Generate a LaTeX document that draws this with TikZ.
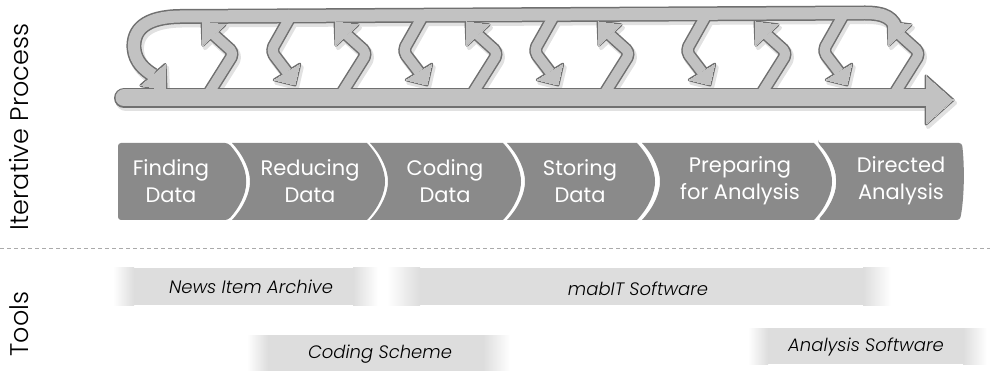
\documentclass[tikz,border=0pt]{standalone}
\usepackage{fontspec}
\setmainfont{Poppins}[UprightFont=* Light, ItalicFont=* Light Italic, BoldFont=* Medium]
\newfontfamily\chevfont{Poppins}
\usetikzlibrary{calc}
\definecolor{arrfill}{RGB}{194,194,194}
\definecolor{arrline}{RGB}{112,112,112}
\definecolor{shadowc}{RGB}{225,225,225}
\definecolor{chevc}{RGB}{138,138,138}
\definecolor{barc}{RGB}{221,221,221}
\definecolor{dashc}{RGB}{170,170,170}
% head: base #1, tip #2, half width #3
\newcommand\hd[3]{\filldraw ($#1!#3!90:#2$) -- #2 -- ($#1!#3!-90:#2$) -- cycle;}
% all arrow shapes: #1 colour, #2 extra stroke width, #3 head outline width
\newcommand\allshapes[3]{%
 \begin{scope}[draw=#1, fill=#1, line join=round]
  % bottom rail
  \draw[line width=17pt+#2, line cap=round] (124,98) -- (930,98);
  \filldraw[line width=#3] (926,76) -- (953,100) -- (926,124) -- cycle;
  % top rail with left loop
  \draw[line width=12pt+#2] (897,32) .. controls (894,18) and (885,13) .. (865,13)
       -- (180,16.5) .. controls (145,17) and (133,30) .. (134,48)
       .. controls (135,62) and (145,70) .. (153,75);
  \begin{scope}[line width=#3]\hd{(153,75)}{(166,90)}{16pt}\end{scope}
  % up arrows
  \foreach \f in {207,340,471,603,760,893}{
    \draw[line width=10pt+#2, rounded corners=5pt] (\f,96) -- (\f+27,53) -- (\f+7,35);
    \begin{scope}[line width=#3]\hd{(\f+7,35)}{(\f-5,22)}{15pt}\end{scope}
  }
  % down arrows
  \foreach \t in {293,425,556,708,845}{
    \draw[line width=10pt+#2, rounded corners=5pt] (\t,12) -- (\t-22,51) -- (\t-6,72);
    \begin{scope}[line width=#3]\hd{(\t-6,72)}{(\t+2,85)}{15pt}\end{scope}
  }
 \end{scope}}
\newcommand\chevmid[2]{\fill[chevron] (#1,143) -- (#2,143)
  .. controls (#2+12,156) and (#2+18,170) .. (#2+18,181.5)
  .. controls (#2+18,193) and (#2+12,207) .. (#2,220) -- (#1,220)
  .. controls (#1+12,207) and (#1+18,193) .. (#1+18,181.5)
  .. controls (#1+18,170) and (#1+12,156) .. (#1,143) -- cycle;}
\tikzset{
  chevron/.style={fill=chevc},
  chevtext/.style={text=white, align=center, inner sep=0pt,
     font=\chevfont\fontsize{21}{27}\selectfont},
  sidelabel/.style={rotate=90, inner sep=0pt, font=\fontsize{25.5}{28}\selectfont},
  tooltext/.style={inner sep=0pt, font=\fontsize{18}{20}\selectfont\itshape},
}
\begin{document}
\begin{tikzpicture}[x=1pt, y=-1pt]
\useasboundingbox (0,0) rectangle (990,371);
% shadow, outline, fill
\begin{scope}[shift={(2,3)}]\allshapes{shadowc}{4pt}{4pt}\end{scope}
\allshapes{arrline}{3pt}{3pt}
\allshapes{arrfill}{0pt}{0pt}
% chevrons
\fill[chevron, rounded corners=3pt] (118,143) -- (228,143)
  .. controls (240,156) and (246,170) .. (246,181.5)
  .. controls (246,193) and (240,207) .. (228,220) -- (118,220) -- cycle;
\chevmid{232}{367}
\chevmid{370}{503}
\chevmid{507}{637}
\chevmid{642}{814}
\fill[chevron, rounded corners=3pt] (818,143) -- (962,143)
  .. controls (965,170) and (964,200) .. (960,220) -- (818,220)
  .. controls (830,207) and (836,193) .. (836,181.5)
  .. controls (836,170) and (830,156) .. (818,143) -- cycle;
\node[chevtext] (c1) at (171,181) {Finding\\Data};
\node[chevtext] (c2) at (310,181) {Reducing\\Data};
\node[chevtext] (c3) at (445,181) {Coding\\Data};
\node[chevtext] (c4) at (580,181) {Storing\\Data};
\node[chevtext] (c5) at (740,181) {Preparing\\for Analysis};
\node[chevtext] (c6) at (901,181) {Directed\\Analysis};
% side labels
\node[sidelabel] (iter) at (19,127) {Iterative Process};
\node[sidelabel] (tools) at (19,324) {Tools};
% divider
\draw[dashc, line width=1pt, dash pattern=on 4pt off 3pt] (0,249) -- (990,249);
% tool bars
\shade[left color=white, right color=barc] (113,268) rectangle (134,305);
\fill[barc] (133.5,268) rectangle (353.5,305);
\shade[left color=barc, right color=white] (353,268) rectangle (378,305);
\shade[left color=white, right color=barc] (387,268) rectangle (420,305);
\fill[barc] (419.5,268) rectangle (863.5,305);
\shade[left color=barc, right color=white] (863,268) rectangle (891,305);
\shade[left color=white, right color=barc] (247,335) rectangle (268,371);
\fill[barc] (267.5,335) rectangle (483.5,371);
\shade[left color=barc, right color=white] (483,335) rectangle (510,371);
\shade[left color=white, right color=barc] (748,328) rectangle (768,364);
\fill[barc] (767.5,328) rectangle (963.5,364);
\shade[left color=barc, right color=white] (963,328) rectangle (987,364);
\node[tooltext] (t1) at (251,287) {News Item Archive};
\node[tooltext] (t2) at (638,289) {mabIT Software};
\node[tooltext] (t3) at (380,354) {Coding Scheme};
\node[tooltext] (t4) at (866,347) {Analysis Software};
\end{tikzpicture}
\end{document}
